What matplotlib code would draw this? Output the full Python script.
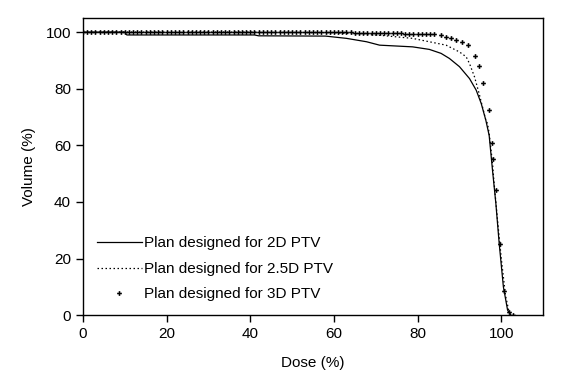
import numpy as np
import matplotlib
matplotlib.use("Agg")
import matplotlib.pyplot as plt

plt.rcParams['font.family'] = ['Liberation Sans', 'DejaVu Sans']
plt.rcParams['font.size'] = 11

# 2D PTV plan (solid line)
dose_2d = [0, 10, 10.5, 41, 42, 58, 63, 67.8, 70.9, 78.8, 82.8, 85.6, 87.6, 90, 92.4,
           94, 95.2, 96.3, 97.1, 97.9, 98.7, 99.5, 100.5, 101.5, 102.3]
vol_2d = [100, 100, 99.0, 99.0, 98.7, 98.6, 97.8, 96.6, 95.4, 94.8, 93.9, 92.5, 90.7, 87.8, 83.6,
          79.5, 74.8, 68.9, 63.5, 51.2, 39.5, 25.3, 10, 1.8, 0]

# 2.5D PTV plan (dotted line)
dose_25d = [0, 40, 60, 65, 70.9, 78.8, 82.8, 86.8, 90, 91.6, 92.4, 93.6, 94.7, 95.5, 96.3,
            96.7, 97.1, 97.9, 98.2, 99.1, 100, 101, 101.8, 102.5]
vol_25d = [100, 100, 99.8, 99.4, 98.9, 97.8, 96.6, 95.4, 93, 91.3, 88.9, 84.2, 78.3, 73.6, 68.9,
           67.7, 64.3, 53.7, 48, 33.6, 20, 7, 1.5, 0]

# 3D PTV plan (point markers)
dose_3d = list(range(0, 85)) + [85.5, 86.8, 88, 89.2, 90.7, 92, 93.8, 94.6, 95.7, 97.0,
                                 97.7, 98.1, 98.7, 99.7, 100.7, 101.9, 102.7]
vol_3d = [100.0] * 61 + [99.9, 99.9, 99.9, 99.9, 99.8, 99.8, 99.8, 99.8, 99.7, 99.7,
                         99.7, 99.7, 99.6, 99.6, 99.6, 99.6, 99.5, 99.5, 99.5, 99.5,
                         99.4, 99.4, 99.4, 99.4] + [99.0, 98.3, 97.8, 97.2, 96.6, 95.4, 91.6,
                                                    88, 82.1, 72.4, 61, 55, 44.2, 25.3, 8.6, 1, 0]

fig = plt.figure(figsize=(5.64, 3.91), dpi=100)
ax = fig.add_axes([0.147, 0.194, 0.816, 0.760])

ax.plot(dose_2d, vol_2d, color='black', lw=0.9, label='Plan designed for 2D PTV')
ax.plot(dose_25d, vol_25d, color='black', lw=0.9, ls=(0, (1.2, 2)), label='Plan designed for 2.5D PTV')
ax.plot(dose_3d, vol_3d, ls='none', marker='P', ms=3.4, color='black',
        mew=0, label='Plan designed for 3D PTV')

ax.set_xlim(0, 110)
ax.set_ylim(0, 105)
ax.set_xticks([0, 20, 40, 60, 80, 100])
ax.set_yticks([0, 20, 40, 60, 80, 100])
ax.tick_params(direction='out', length=5, width=1, colors='black', labelsize=11)
for s in ax.spines.values():
    s.set_linewidth(1)

ax.set_xlabel('Dose (%)', fontsize=11, labelpad=11)
ax.set_ylabel('Volume (%)', fontsize=11, labelpad=7)

ax.legend(loc='lower left', bbox_to_anchor=(0.0, 0.0), frameon=False, fontsize=11,
          handlelength=2.95, labelspacing=0.75, handletextpad=0.15)

fig.savefig('out.png', dpi=100)
